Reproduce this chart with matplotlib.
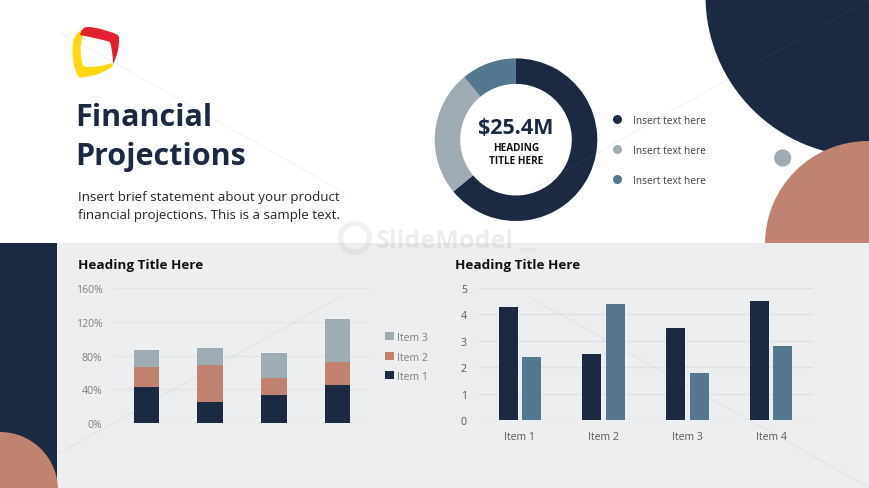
import matplotlib
matplotlib.use('Agg')
import matplotlib.pyplot as plt
import numpy as np
from matplotlib.patches import Circle, Rectangle, PathPatch
from matplotlib.path import Path

# colours
NAVY = '#1B2A41'
SALMON = '#C08371'
GREY = '#A0ACB3'
BLUE = '#56788F'
PANEL = '#EDEEF0'

# data
donut_values = [64, 25, 11]
donut_colors = [NAVY, GREY, BLUE]
donut_labels = ['Insert text here', 'Insert text here', 'Insert text here']

stack_item1 = [43, 25, 34, 45]
stack_item2 = [24, 44, 19, 28]
stack_item3 = [20, 20, 30, 50]
stack_ticks = [0, 40, 80, 120, 160]

group_categories = ['Item 1', 'Item 2', 'Item 3', 'Item 4']
group_series1 = [4.3, 2.5, 3.5, 4.5]
group_series2 = [2.4, 4.4, 1.8, 2.8]
group_ticks = [0, 1, 2, 3, 4, 5]

W, H = 870, 489
plt.rcParams['font.family'] = ['Open Sans', 'DejaVu Sans']


def px_axes(fig, x0, y0, x1, y1, **kw):
    # axes from pixel box, y measured from the top
    return fig.add_axes([x0 / W, 1 - y1 / H, (x1 - x0) / W, (y1 - y0) / H], **kw)


def curve(points):
    # first point is a move, the rest come in threes as beziers
    codes = [Path.MOVETO] + [Path.CURVE4] * (len(points) - 1)
    return Path(points, codes)


fig = plt.figure(figsize=(W / 100, H / 100), dpi=100, facecolor='white')

# background shapes in pixel coordinates
bg = px_axes(fig, 0, 0, W, H)
bg.set_xlim(0, W)
bg.set_ylim(H, 0)
bg.axis('off')
bg.add_patch(Circle((866, -3), 160.5, color=NAVY, lw=0))
bg.add_patch(Circle((868, 245), 103, color=SALMON, lw=0))
bg.add_patch(Circle((782.7, 159), 8.6, color=GREY, lw=0))
bg.add_patch(Rectangle((0, 244), W, H - 244, color=PANEL, lw=0))
bg.add_patch(Rectangle((0, 244), 57.5, H - 244, color=NAVY, lw=0))
bg.add_patch(Circle((0, 491), 58, color=SALMON, lw=0))

# logo
yellow = curve([(82, 31), (77, 33), (74, 38), (73, 44),
                (72, 53), (72, 66), (78, 77),
                (79, 79), (82, 79), (85, 78),
                (95, 77), (105, 73), (113, 67),
                (113, 66), (113, 65), (112, 64),
                (104, 67), (94, 68), (86, 68),
                (83, 67), (82, 65), (82, 62),
                (80, 54), (80, 45), (83, 36),
                (83, 34), (83, 33), (82, 31)])
red = curve([(80, 36), (81, 32), (83, 28), (87, 28),
             (97, 28), (108, 32), (116, 35),
             (119, 36), (119, 38), (119, 41),
             (119, 49), (117, 58), (113, 65),
             (113, 58), (112, 50), (110, 43),
             (100, 40), (90, 38), (80, 36)])
bg.add_patch(PathPatch(yellow, facecolor='#FFD811', lw=0))
bg.add_patch(PathPatch(red, facecolor='#E3202F', lw=0))

# header text
bg.text(75.5, 117.5, 'Financial', fontsize=22, fontweight='bold', color=NAVY,
        va='center', ha='left')
bg.text(75.5, 156.5, 'Projections', fontsize=22, fontweight='bold', color=NAVY,
        va='center', ha='left')
bg.text(78, 198, 'Insert brief statement about your product', fontsize=9.65,
        color='#262626', va='center', ha='left')
bg.text(78, 215, 'financial projections. This is a sample text.', fontsize=9.65,
        color='#262626', va='center', ha='left')

bg.text(78, 266, 'Heading Title Here', fontsize=9.7, fontweight='bold', color='#111111',
        va='center', ha='left')
bg.text(455, 266, 'Heading Title Here', fontsize=9.7, fontweight='bold', color='#111111',
        va='center', ha='left')

# donut legend
donut_y = [120, 149.5, 180]
for y, col, label in zip(donut_y, donut_colors, donut_labels):
    bg.scatter([617.3], [y], s=42, color=col, lw=0)
    bg.text(633, y + 1.5, label, fontsize=7.3, color='#404040', va='center', ha='left')

# donut
pad = 1.04
r = 81.3
ax_d = px_axes(fig, 516 - r * pad, 140.7 - r * pad, 516 + r * pad, 140.7 + r * pad)
ax_d.pie(donut_values, colors=donut_colors, startangle=90, counterclock=False,
         radius=1, wedgeprops={'width': (81.3 - 55.8) / 81.3, 'linewidth': 0})
ax_d.set_xlim(-pad, pad)
ax_d.set_ylim(-pad, pad)
ax_d.text(0, 0.15, '$25.4M', fontsize=15.5, fontweight='bold', color=NAVY,
          ha='center', va='center')
ax_d.text(0, -0.10, 'HEADING', fontsize=7.2, fontweight='bold', color='#111111',
          ha='center', va='center')
ax_d.text(0, -0.26, 'TITLE HERE', fontsize=7.2, fontweight='bold', color='#111111',
          ha='center', va='center')

# stacked bars
ax1 = px_axes(fig, 114.5, 289, 369.5, 424.3)
ax1.patch.set_alpha(0)
x1 = np.arange(len(stack_item1))
item1 = np.array(stack_item1)
item2 = np.array(stack_item2)
item3 = np.array(stack_item3)
b1 = ax1.bar(x1, item1, width=0.40, color=NAVY, zorder=3)
b2 = ax1.bar(x1, item2, width=0.40, bottom=item1, color=SALMON, zorder=3)
b3 = ax1.bar(x1, item3, width=0.40, bottom=item1 + item2, color=GREY, zorder=3)
ax1.set_xlim(-0.5, 3.5)
ax1.set_ylim(0, 160)
ax1.set_yticks(stack_ticks)
ax1.set_yticklabels([f'{t}%' for t in stack_ticks])
ax1.set_xticks([])
ax1.tick_params(axis='y', length=0, pad=8.6, labelsize=7.6, labelcolor='#7F7F7F')
ax1.grid(axis='y', color='#E3E4E7', lw=1, zorder=0)
for s in ax1.spines.values():
    s.set_visible(False)
leg = ax1.legend([b3, b2, b1], ['Item 3', 'Item 2', 'Item 1'], frameon=False,
                 loc='center left', bbox_to_anchor=(1.0, 0.49), handlelength=0.8,
                 handleheight=0.8, handletextpad=0.3, labelspacing=0.8,
                 borderpad=0, borderaxespad=1.5, fontsize=7.6, labelcolor='#7F7F7F')

# grouped bars
ax2 = px_axes(fig, 478, 289, 813, 421.3)
ax2.patch.set_alpha(0)
x2 = np.arange(len(group_categories))
ax2.bar(x2 - 0.1415, group_series1, width=0.227, color=NAVY, zorder=3)
ax2.bar(x2 + 0.1415, group_series2, width=0.227, color=BLUE, zorder=3)
ax2.set_xlim(-0.5, 3.5)
ax2.set_ylim(0, 5)
ax2.set_yticks(group_ticks)
ax2.set_xticks(x2)
ax2.set_xticklabels(group_categories)
ax2.tick_params(axis='both', length=0, labelsize=7.6, labelcolor='#595959')
ax2.tick_params(axis='y', pad=8)
ax2.tick_params(axis='x', pad=7.5)
ax2.grid(axis='y', color='#DFE1E4', lw=1, zorder=0)
for s in ax2.spines.values():
    s.set_visible(False)

# faint watermark on top of everything
top = px_axes(fig, 0, 0, W, H)
top.set_xlim(0, W)
top.set_ylim(H, 0)
top.axis('off')
top.patch.set_alpha(0)
for (xa, ya, xb, yb) in [(60, 33, 345, 194), (0, 487, 342, 297),
                         (530, 192, 870, 0), (533, 300, 870, 489)]:
    top.plot([xa, xb], [ya, yb], color='#808080', alpha=0.1, lw=0.8)
ring = Circle((355, 239), 14.5, fill=False, ec='#9A9A9A', lw=4, alpha=0.13)
top.add_patch(ring)
top.text(376, 241, 'SlideModel', fontsize=18.2, fontweight='bold', color='#9A9A9A',
         alpha=0.17, ha='left', va='center')
top.text(519, 250, '.com', fontsize=5.5, color='#9A9A9A', alpha=0.25,
         ha='left', va='center')

fig.savefig('out.png', dpi=100)
